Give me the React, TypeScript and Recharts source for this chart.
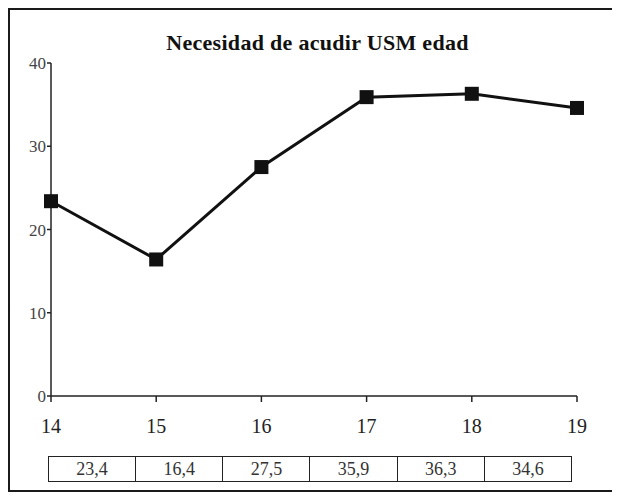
import { LineChart, Line, XAxis, YAxis } from "recharts";

const ages = [14, 15, 16, 17, 18, 19];
const values = [23.4, 16.4, 27.5, 35.9, 36.3, 34.6];
const yTicks = [0, 10, 20, 30, 40];
const valueLabels = values.map((v) => v.toFixed(1).replace(".", ","));

const data = ages.map((age, i) => ({ age, value: values[i] }));

const FONT = "'Liberation Serif', 'Times New Roman', serif";

// black square marker for each point
function SquareDot(props: any) {
  const { cx, cy, index } = props;
  if (cx == null || cy == null) return null;
  const s = 14;
  return <rect key={`dot-${index}`} x={cx - s / 2} y={cy - s / 2} width={s} height={s} fill="#111" />;
}

export default function App() {
  return (
    <div
      style={{
        position: "relative",
        width: 609,
        height: 484,
        border: "2px solid #1a1a1a",
        boxSizing: "border-box",
        background: "#fff",
        fontFamily: FONT,
      }}
    >
      <div
        style={{
          position: "absolute",
          top: 21,
          left: 0,
          width: "100%",
          paddingLeft: 10,
          boxSizing: "border-box",
          textAlign: "center",
          fontSize: 22,
          lineHeight: "24px",
          letterSpacing: 0.3,
          fontWeight: "bold",
          color: "#111",
        }}
      >
        Necesidad de acudir USM edad
      </div>
      <div style={{ position: "absolute", left: -2, top: -2 }}>
        <LineChart width={609} height={484} data={data} margin={{ top: 55, right: 40, bottom: 66, left: 13 }}>
          <XAxis
            dataKey="age"
            type="number"
            domain={[14, 19]}
            ticks={ages}
            height={30}
            axisLine={{ stroke: "#222", strokeWidth: 1.5 }}
            tickLine={{ stroke: "#222", strokeWidth: 1.5 }}
            tickSize={6}
            tickMargin={17}
            tick={{ fontSize: 20, fill: "#222", fontFamily: FONT }}
            interval={0}
          />
          <YAxis
            type="number"
            domain={[0, 40]}
            ticks={yTicks}
            width={30}
            axisLine={{ stroke: "#222", strokeWidth: 1.5 }}
            tickLine={{ stroke: "#222", strokeWidth: 1.5 }}
            tickSize={4}
            tickMargin={1}
            tick={{ fontSize: 17, fill: "#444", fontFamily: FONT }}
            interval={0}
          />
          <Line
            type="linear"
            dataKey="value"
            stroke="#111"
            strokeWidth={3}
            dot={SquareDot}
            activeDot={false}
            isAnimationActive={false}
          />
        </LineChart>
      </div>
      <table
        style={{
          position: "absolute",
          left: 38,
          top: 446,
          width: 524,
          height: 26,
          borderCollapse: "collapse",
          tableLayout: "fixed",
          fontFamily: FONT,
        }}
      >
        <tbody>
          <tr>
            {valueLabels.map((label, i) => (
              <td
                key={ages[i]}
                style={{
                  border: "1.5px solid #222",
                  textAlign: "center",
                  fontSize: 18,
                  color: "#333",
                  padding: 0,
                }}
              >
                {label}
              </td>
            ))}
          </tr>
        </tbody>
      </table>
    </div>
  );
}
